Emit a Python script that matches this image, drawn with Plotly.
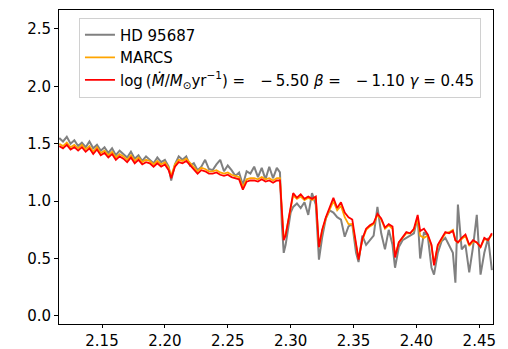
import plotly.graph_objects as go

# Wavelength grid (micron)
wavelength = [
    2.116, 2.119, 2.122, 2.125, 2.128, 2.131, 2.134, 2.137, 2.140, 2.143,
    2.146, 2.149, 2.152, 2.155, 2.158, 2.161, 2.164, 2.167, 2.170, 2.173,
    2.176, 2.179, 2.182, 2.185, 2.188, 2.191, 2.194, 2.197, 2.200, 2.203,
    2.205, 2.208, 2.211, 2.214, 2.217, 2.220, 2.223, 2.226, 2.229, 2.232,
    2.235, 2.238, 2.241, 2.244, 2.247, 2.250, 2.253, 2.256, 2.259, 2.262,
    2.265, 2.268, 2.271, 2.274, 2.277, 2.280, 2.283, 2.286, 2.289, 2.2915,
    2.293, 2.2945, 2.296, 2.298, 2.300, 2.302, 2.305, 2.308, 2.311, 2.314,
    2.317, 2.320, 2.3225, 2.325, 2.328, 2.331, 2.334, 2.337, 2.340, 2.343,
    2.346, 2.349, 2.352, 2.354, 2.357, 2.360, 2.363, 2.366, 2.369, 2.372,
    2.375, 2.378, 2.381, 2.383, 2.386, 2.389, 2.392, 2.395, 2.398, 2.401,
    2.403, 2.406, 2.409, 2.412, 2.414, 2.417, 2.420, 2.423, 2.426, 2.429,
    2.431, 2.433, 2.436, 2.439, 2.442, 2.445, 2.448, 2.451, 2.454, 2.457,
    2.460,
]

# Observed normalised flux of HD 95687
flux_star = [
    1.55, 1.52, 1.56, 1.50, 1.53, 1.48, 1.51, 1.47, 1.52, 1.46,
    1.49, 1.44, 1.47, 1.42, 1.46, 1.40, 1.44, 1.41, 1.38, 1.43,
    1.37, 1.40, 1.35, 1.39, 1.36, 1.33, 1.38, 1.34, 1.36, 1.30,
    1.18, 1.32, 1.39, 1.36, 1.39, 1.31, 1.33, 1.27, 1.30, 1.36,
    1.28, 1.27, 1.32, 1.36, 1.26, 1.31, 1.27, 1.22, 1.25, 1.14,
    1.26, 1.24, 1.30, 1.21, 1.29, 1.19, 1.30, 1.20, 1.29, 1.25,
    0.80, 0.55, 0.62, 0.75, 0.90, 0.95, 0.98, 0.94, 0.99, 0.88,
    1.07, 0.97, 0.49, 0.68, 0.85, 0.92, 0.90, 0.86, 0.84, 0.69,
    0.78, 0.80, 0.55, 0.47, 0.70, 0.62, 0.66, 0.70, 0.95, 0.72,
    0.58, 0.75, 0.62, 0.42, 0.60, 0.66, 0.68, 0.70, 0.72, 0.86,
    0.50, 0.73, 0.70, 0.42, 0.36, 0.55, 0.65, 0.68, 0.62, 0.55,
    0.29, 0.97, 0.58, 0.62, 0.38, 0.60, 0.88, 0.36, 0.55, 0.68,
    0.40,
]

# MARCS photospheric model
flux_marcs = [
    1.50, 1.48, 1.51, 1.47, 1.49, 1.46, 1.49, 1.45, 1.48, 1.43,
    1.47, 1.42, 1.44, 1.40, 1.43, 1.38, 1.41, 1.39, 1.36, 1.40,
    1.35, 1.38, 1.34, 1.36, 1.35, 1.32, 1.35, 1.32, 1.34, 1.29,
    1.22, 1.32, 1.36, 1.35, 1.37, 1.33, 1.30, 1.26, 1.29, 1.28,
    1.26, 1.26, 1.27, 1.25, 1.24, 1.25, 1.23, 1.22, 1.21, 1.12,
    1.19, 1.20, 1.20, 1.19, 1.21, 1.19, 1.20, 1.18, 1.20, 1.20,
    0.96, 0.67, 0.71, 0.83, 0.95, 1.05, 1.02, 1.04, 1.01, 1.03,
    1.01, 1.03, 0.60, 0.74, 0.85, 0.93, 1.00, 0.92, 0.96, 0.86,
    0.80, 0.80, 0.60, 0.50, 0.66, 0.75, 0.78, 0.80, 0.88, 0.84,
    0.76, 0.79, 0.76, 0.52, 0.64, 0.68, 0.72, 0.72, 0.75, 0.85,
    0.70, 0.68, 0.70, 0.61, 0.45, 0.61, 0.67, 0.72, 0.73, 0.75,
    0.66, 0.64, 0.67, 0.70, 0.61, 0.65, 0.64, 0.60, 0.67, 0.66,
    0.71,
]

# Model with mass loss: log(Mdot) = -5.50, beta = -1.10, gamma = 0.45
flux_wind = [
    1.48, 1.46, 1.49, 1.45, 1.47, 1.44, 1.47, 1.43, 1.46, 1.41,
    1.45, 1.40, 1.42, 1.38, 1.41, 1.36, 1.39, 1.37, 1.34, 1.38,
    1.33, 1.36, 1.32, 1.34, 1.33, 1.30, 1.33, 1.30, 1.32, 1.27,
    1.20, 1.30, 1.34, 1.33, 1.35, 1.31, 1.28, 1.24, 1.27, 1.26,
    1.24, 1.24, 1.25, 1.23, 1.22, 1.23, 1.21, 1.20, 1.19, 1.10,
    1.17, 1.18, 1.18, 1.17, 1.19, 1.17, 1.18, 1.16, 1.18, 1.18,
    0.95, 0.66, 0.70, 0.83, 0.95, 1.07, 1.03, 1.06, 1.02, 1.04,
    1.02, 1.04, 0.60, 0.75, 0.86, 0.95, 1.03, 0.94, 0.99, 0.90,
    0.86, 0.84, 0.62, 0.49, 0.67, 0.76, 0.79, 0.81, 0.89, 0.85,
    0.77, 0.80, 0.78, 0.51, 0.64, 0.68, 0.73, 0.72, 0.76, 0.88,
    0.74, 0.76, 0.71, 0.62, 0.44, 0.62, 0.67, 0.73, 0.72, 0.74,
    0.66, 0.64, 0.68, 0.71, 0.62, 0.66, 0.64, 0.60, 0.68, 0.66,
    0.72,
]

x_ticks = [2.15, 2.20, 2.25, 2.30, 2.35, 2.40, 2.45]
y_ticks = [0.0, 0.5, 1.0, 1.5, 2.0, 2.5]

label_star = "HD 95687"
label_marcs = "MARCS"
label_wind = ("log\u2009(<i>Ṁ</i>/<i>M</i><sub>⊙</sub>yr<sup>−1</sup>) ="
              "\u2003−\u2009" "5.50 <i>β</i> =\u2003−\u2009" "1.10 <i>γ</i> = 0.45")

fig = go.Figure()
fig.add_trace(go.Scatter(x=wavelength, y=flux_star, mode="lines", name=label_star,
                         line=dict(color="#808080", width=2)))
fig.add_trace(go.Scatter(x=wavelength, y=flux_marcs, mode="lines", name=label_marcs,
                         line=dict(color="#FFA500", width=1.8)))
fig.add_trace(go.Scatter(x=wavelength, y=flux_wind, mode="lines", name=label_wind,
                         line=dict(color="#FF0000", width=1.8)))

axis_common = dict(
    showgrid=False, zeroline=False, showline=True, linecolor="black", linewidth=1,
    mirror=True, ticks="outside", tickwidth=1, tickcolor="black",
    automargin=False,
    tickfont=dict(family="DejaVu Sans", size=15, color="black"),
)

fig.update_layout(
    width=508, height=349,
    margin=dict(l=59, r=15, t=10, b=25),
    paper_bgcolor="white", plot_bgcolor="white",
    font=dict(family="DejaVu Sans", size=15, color="black"),
    xaxis=dict(range=[2.1158, 2.4609], tickvals=x_ticks, tickformat=".2f",
               ticklen=3, **axis_common),
    yaxis=dict(range=[-0.07, 2.665], tickvals=y_ticks, tickformat=".1f",
               ticklen=4, **axis_common),
    legend=dict(
        x=0.046, y=0.976, xanchor="left", yanchor="top",
        bgcolor="rgba(255,255,255,0.8)", bordercolor="#d0d0d0", borderwidth=1,
        font=dict(family="DejaVu Sans", size=15, color="black"),
    ),
    showlegend=True,
)

fig.write_html("out.html")
